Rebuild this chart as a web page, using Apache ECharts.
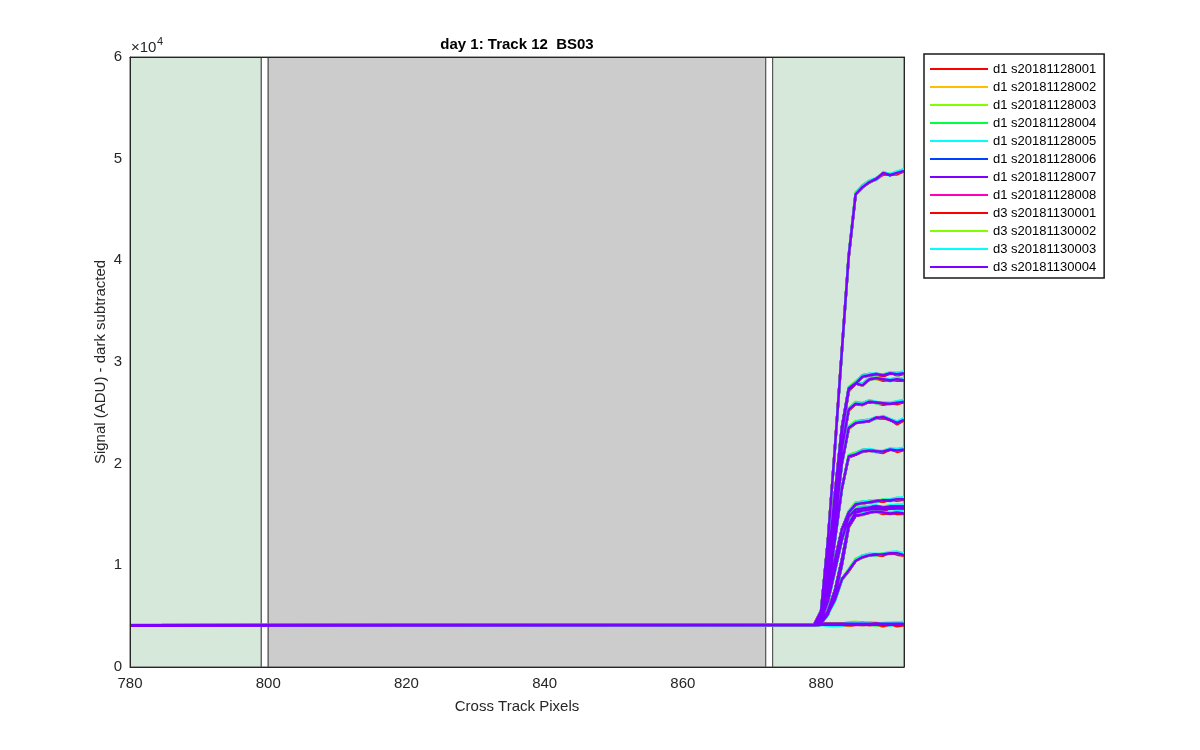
<!DOCTYPE html>
<html>
<head>
<meta charset="utf-8">
<script src="https://cdn.jsdelivr.net/npm/echarts@6/dist/echarts.min.js"></script>
<style>
html,body{margin:0;padding:0;background:#fff;}
#chart{width:1200px;height:750px;}
</style>
</head>
<body>
<div id="chart"></div>
<script>
// ---------- data ----------
const xs = [780, 879, 880, 881, 882, 883, 884, 885, 886, 887, 888, 889, 890, 891, 892];

const c488 = [4100, 4150, 5500, 12500, 21500, 31000, 40400, 46500, 47200, 47700, 48000, 48600, 48400, 48600, 48800];
const c289 = [4100, 4150, 5500, 10000, 17000, 23500, 27400, 27900, 28550, 28700, 28800, 28700, 28900, 28800, 28900];
const c283 = [4100, 4150, 5300, 9800, 16500, 23000, 27200, 27900, 27700, 28300, 28400, 28300, 28200, 28300, 28200];
const c260 = [4100, 4150, 5000, 9000, 15000, 21500, 25300, 25900, 25800, 26100, 26000, 25950, 25900, 26000, 26100];
const c243 = [4100, 4150, 5000, 8500, 14000, 20000, 23500, 24000, 24100, 24200, 24500, 24600, 24300, 24000, 24300];
const c213 = [4100, 4150, 4800, 7500, 12500, 17500, 20700, 20900, 21200, 21300, 21200, 21200, 21400, 21300, 21400];
const c165 = [4100, 4150, 4800, 7000, 10500, 13500, 15200, 16000, 16100, 16200, 16300, 16400, 16400, 16500, 16500];
const c158 = [4100, 4150, 4600, 6500, 9500, 12500, 14800, 15500, 15600, 15700, 15800, 15700, 15800, 15800, 15800];
const c156 = [4100, 4150, 4400, 5500, 7500, 10500, 14000, 15200, 15400, 15500, 15600, 15500, 15600, 15600, 15600];
const c151 = [4100, 4150, 4300, 5200, 7000, 10000, 13800, 14900, 15000, 15200, 15300, 15200, 15100, 15200, 15100];
const c110 = [4100, 4150, 4500, 5300, 6600, 8600, 9500, 10450, 10800, 11000, 11050, 11100, 11200, 11200, 11000];
const flatA = [4100, 4150, 4200, 4250, 4250, 4250, 4250, 4250, 4250, 4250, 4250, 4250, 4250, 4250, 4250];
const flatB = [4050, 4100, 4150, 4150, 4150, 4150, 4150, 4150, 4150, 4150, 4150, 4150, 4150, 4150, 4150];
const curves = [c488, c289, c283, c260, c243, c213, c165, c158, c156, c151, c110, flatA, flatB];

const seriesNames = [
  'd1 s20181128001','d1 s20181128002','d1 s20181128003','d1 s20181128004',
  'd1 s20181128005','d1 s20181128006','d1 s20181128007','d1 s20181128008',
  'd3 s20181130001','d3 s20181130002','d3 s20181130003','d3 s20181130004'
];
const seriesColors = [
  '#ff0000','#ffbf00','#80ff00','#00ff40','#00ffff','#0040ff','#8000ff','#ff00bf',
  '#ff0000','#80ff00','#00ffff','#8000ff'
];
// per-run deviations from the common profiles (ADU), one value per xs entry
const dev01 = [0, 0, 0, 0, 0, 0, 50, 100, 150, 120, -50, -150, 50, -150, -50];
const dev02 = [0, 0, 0, 0, 0, 0, 0, 50, 0, 50, 0, -50, 0, 0, 0];
const dev03 = [0, 0, 0, 0, 0, 0, 150, 200, 100, 50, 0, 100, 50, 150, 100];
const dev04 = [0, 0, 0, 0, 0, 0, 100, 150, 150, 100, 0, 50, 0, 100, 50];
const dev05 = [0, 0, 0, -100, -150, -100, 0, 100, 150, 150, 100, 0, -100, 100, 200];
const dev06 = [0, 0, 0, 50, 50, 50, 0, 0, 0, 0, 0, 0, 0, 0, 0];
const dev07 = [0, 0, 0, 0, 0, 0, 0, 0, 0, 0, 0, 0, 0, 0, 0];
const dev08 = [40, 40, 0, 0, 0, 0, -50, 0, -50, 0, 50, 0, 0, 0, 0];
const dev09 = [0, 0, 0, 0, 0, 0, -100, 0, 100, -50, 0, -100, 0, 0, 0];
const dev10 = [0, 0, 0, 0, 0, 0, -50, 100, -50, 50, -100, 50, 100, 0, 50];
const dev11 = [0, 0, 0, -50, -100, -50, 50, 50, 100, 0, -50, 50, 100, 150, 150];
const dev12 = [0, 0, 0, 0, 0, 0, 0, 0, 0, 0, 0, 0, 0, 0, 0];
const devs = [dev01, dev02, dev03, dev04, dev05, dev06, dev07, dev08, dev09, dev10, dev11, dev12];

// shaded regions (data units)
const regionFrom = [780, 799, 800, 872, 873];
const regionTo   = [799, 800, 872, 873, 892];
const regionKind = ['green', 'white', 'gray', 'white', 'green'];

const xTicks = [780, 800, 820, 840, 860, 880];
const yTicks = [0, 1, 2, 3, 4, 5, 6];

// ---------- chart ----------
const FONT = '"Liberation Sans", Arial, Helvetica, sans-serif';
const TXT = '#262626';
const kindColor = { green: '#d5e8d9', white: '#ffffff', gray: '#cccccc' };

const lineSeries = seriesNames.map((name, si) => {
  const data = [];
  curves.forEach((cv, ci) => {
    if (ci > 0) data.push([xs[xs.length - 1], null]);
    xs.forEach((x, i) => data.push([x, cv[i] + devs[si][i]]));
  });
  return {
    name: name,
    type: 'line',
    xAxisIndex: 0, yAxisIndex: 0,
    data: data,
    color: seriesColors[si],
    lineStyle: { width: 2.5, color: seriesColors[si] },
    showSymbol: false,
    symbol: 'none',
    connectNulls: false,
    z: 2,
    silent: true,
    animation: false
  };
});

const regionSeries = {
  type: 'line',
  xAxisIndex: 0, yAxisIndex: 0,
  data: [],
  z: 1,
  silent: true,
  animation: false,
  markArea: {
    silent: true,
    animation: false,
    data: regionFrom.map((f, i) => [
      { xAxis: f, yAxis: 0, itemStyle: { color: kindColor[regionKind[i]], opacity: 1, borderColor: '#4a4a4a', borderWidth: 1 } },
      { xAxis: regionTo[i], yAxis: 60000 }
    ])
  }
};

const chart = echarts.init(document.getElementById('chart'), null, { renderer: 'canvas' });
chart.setOption({
  backgroundColor: '#ffffff',
  animation: false,
  grid: { left: 130, right: 296, top: 57, bottom: 83, containLabel: false },
  xAxis: [
    {
      type: 'value', min: 780, max: 892, interval: 20, position: 'bottom', z: 5,
      axisLine: { show: true, onZero: false, lineStyle: { color: TXT, width: 1 } },
      axisTick: { show: false },
      splitLine: { show: false },
      axisLabel: {
        fontFamily: FONT, fontSize: 15, color: TXT, margin: 9,
        showMaxLabel: false,
        formatter: v => (xTicks.indexOf(v) >= 0 ? String(v) : '')
      }
    },
    {
      type: 'value', min: 780, max: 892, interval: 20, position: 'top', z: 5,
      axisLine: { show: true, onZero: false, lineStyle: { color: TXT, width: 1 } },
      axisTick: { show: false }, splitLine: { show: false }, axisLabel: { show: false }
    }
  ],
  yAxis: [
    {
      type: 'value', min: 0, max: 60000, interval: 10000, position: 'left', z: 5,
      axisLine: { show: true, onZero: false, lineStyle: { color: TXT, width: 1 } },
      axisTick: { show: false },
      splitLine: { show: false },
      axisLabel: {
        fontFamily: FONT, fontSize: 15, color: TXT, margin: 8,
        formatter: v => { const t = v / 10000; return yTicks.indexOf(t) >= 0 ? String(t) : ''; }
      }
    },
    {
      type: 'value', min: 0, max: 60000, interval: 10000, position: 'right', z: 5,
      axisLine: { show: true, onZero: false, lineStyle: { color: TXT, width: 1 } },
      axisTick: { show: false }, splitLine: { show: false }, axisLabel: { show: false }
    }
  ],
  legend: {
    data: seriesNames,
    orient: 'vertical',
    left: 924, top: 54,
    icon: 'rect',
    itemWidth: 58, itemHeight: 2, itemGap: 2,
    padding: [7, 8, 3, 6],
    backgroundColor: '#ffffff',
    borderColor: '#1a1a1a', borderWidth: 1.5, borderRadius: 0,
    selectedMode: false,
    textStyle: { fontFamily: FONT, fontSize: 13, color: '#000', lineHeight: 16 }
  },
  graphic: [
    { type: 'text', x: 517, y: 45, z: 10, style: { text: 'day 1: Track 12  BS03', font: 'bold 15px ' + FONT, fill: '#000', textAlign: 'center', textVerticalAlign: 'middle' } },
    { type: 'text', x: 517, y: 707, z: 10, style: { text: 'Cross Track Pixels', font: '15px ' + FONT, fill: TXT, textAlign: 'center', textVerticalAlign: 'middle' } },
    { type: 'text', x: 101, y: 362, rotation: Math.PI / 2, z: 10, style: { text: 'Signal (ADU) - dark subtracted', font: '15px ' + FONT, fill: TXT, textAlign: 'center', textVerticalAlign: 'middle' } },
    { type: 'text', x: 131, y: 48, z: 10, style: { text: '\u00d710', font: '15px ' + FONT, fill: TXT, textAlign: 'left', textVerticalAlign: 'middle' } },
    { type: 'text', x: 157, y: 42, z: 10, style: { text: '4', font: '11px ' + FONT, fill: TXT, textAlign: 'left', textVerticalAlign: 'middle' } }
  ],
  series: [regionSeries].concat(lineSeries)
});
</script>
</body>
</html>
